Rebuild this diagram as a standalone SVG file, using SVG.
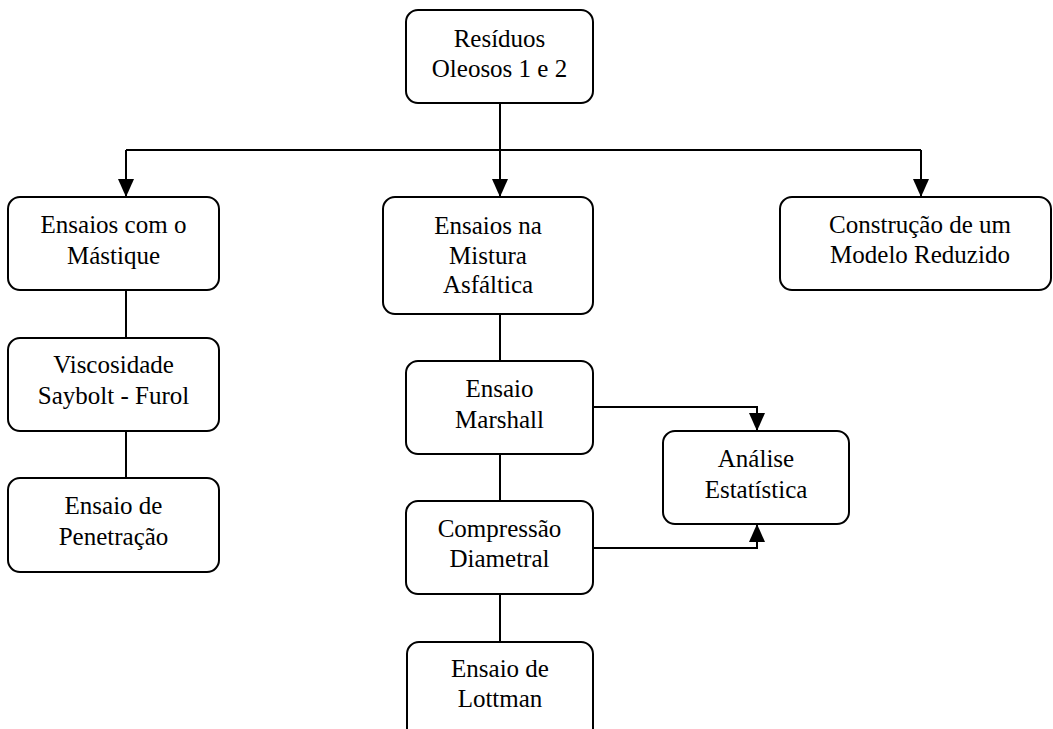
<svg xmlns="http://www.w3.org/2000/svg" width="1053" height="729" viewBox="0 0 1053 729">
<style>
.box{fill:#fff;stroke:#000;stroke-width:2}
.t{font-family:'Liberation Serif','Times New Roman',serif;font-size:25px;fill:#000;text-anchor:middle}
.c{fill:none;stroke:#000;stroke-width:2}
</style>
<defs>
<marker id="ah" markerUnits="userSpaceOnUse" markerWidth="18" markerHeight="16" viewBox="0 0 18 16" refX="18" refY="8" orient="auto">
<path d="M0,0 L18,8 L0,16 Z" fill="#000"/>
</marker>
</defs>
<rect width="1053" height="729" fill="#fff"/>
<g id="connectors">
<path class="c" d="M500,103 V150"/>
<path class="c" d="M126,150 H921"/>
<path class="c" d="M126,150 V197" marker-end="url(#ah)"/>
<path class="c" d="M500,150 V197" marker-end="url(#ah)"/>
<path class="c" d="M921,150 V197" marker-end="url(#ah)"/>
<path class="c" d="M126,290 V338"/>
<path class="c" d="M126,431 V478"/>
<path class="c" d="M500,314 V361"/>
<path class="c" d="M500,454 V501"/>
<path class="c" d="M500,594 V642"/>
<path class="c" d="M593,407 H757 V431" marker-end="url(#ah)"/>
<path class="c" d="M593,548 H757 V524" marker-end="url(#ah)"/>
</g>
<g id="n-residuos">
<rect class="box" x="406" y="10" width="187" height="93" rx="12"/>
<text class="t" x="499.5" y="47">Resíduos</text>
<text class="t" x="499.5" y="77">Oleosos 1 e 2</text>
</g>
<g id="n-mastique">
<rect class="box" x="8" y="197" width="211" height="93" rx="12"/>
<text class="t" x="113.5" y="233">Ensaios com o</text>
<text class="t" x="113.5" y="264">Mástique</text>
</g>
<g id="n-viscosidade">
<rect class="box" x="8" y="338" width="211" height="93" rx="12"/>
<text class="t" x="113.5" y="373">Viscosidade</text>
<text class="t" x="113.5" y="404">Saybolt - Furol</text>
</g>
<g id="n-penetracao">
<rect class="box" x="8" y="478" width="211" height="94" rx="12"/>
<text class="t" x="113.5" y="514">Ensaio de</text>
<text class="t" x="113.5" y="545">Penetração</text>
</g>
<g id="n-mistura">
<rect class="box" x="383" y="197" width="210" height="117" rx="12"/>
<text class="t" x="488" y="234">Ensaios na</text>
<text class="t" x="488" y="264">Mistura</text>
<text class="t" x="488" y="293">Asfáltica</text>
</g>
<g id="n-marshall">
<rect class="box" x="406" y="361" width="187" height="93" rx="12"/>
<text class="t" x="499.5" y="397">Ensaio</text>
<text class="t" x="499.5" y="428">Marshall</text>
</g>
<g id="n-compressao">
<rect class="box" x="406" y="501" width="187" height="93" rx="12"/>
<text class="t" x="499.5" y="537">Compressão</text>
<text class="t" x="499.5" y="567">Diametral</text>
</g>
<g id="n-lottman">
<rect class="box" x="407" y="642" width="186" height="100" rx="12"/>
<text class="t" x="500" y="677">Ensaio de</text>
<text class="t" x="500" y="707">Lottman</text>
</g>
<g id="n-analise">
<rect class="box" x="663" y="431" width="186" height="93" rx="12"/>
<text class="t" x="756" y="467">Análise</text>
<text class="t" x="756" y="498">Estatística</text>
</g>
<g id="n-modelo">
<rect class="box" x="780" y="197" width="271" height="93" rx="12"/>
<text class="t" x="920" y="233">Construção de um</text>
<text class="t" x="920" y="263">Modelo Reduzido</text>
</g>
</svg>
